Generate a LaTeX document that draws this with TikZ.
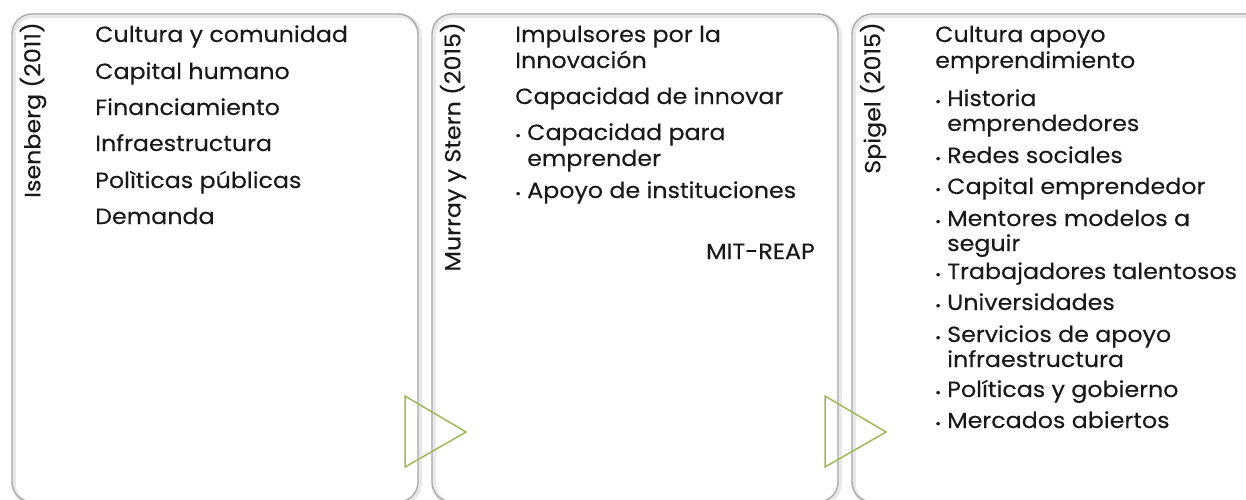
\documentclass[tikz,border=0pt]{standalone}
\usepackage{fontspec}
\setmainfont{Poppins}[FakeStretch=1.08,FakeBold=0.2]
\begin{document}
\begin{tikzpicture}[x=1pt,y=-1pt,
  panel/.style={draw=gray!65,line width=1.4pt,rounded corners=20pt},
  panelshadow/.style={draw=gray!18,line width=4.5pt,rounded corners=20pt},
  txt/.style={anchor=base west,inner sep=0pt,font=\fontsize{22}{24}\selectfont,text=black!90},
  vlabel/.style={anchor=east,rotate=90,inner sep=0pt,font=\fontsize{22}{24}\selectfont,text=black!90},
  bul/.style={anchor=base west,inner sep=0pt,font=\fontsize{13}{13}\selectfont,text=black!90},
  tri/.style={draw={rgb,255:red,155;green,187;blue,89},line width=1.5pt,line join=miter}
]
\useasboundingbox (0,0) rectangle (1246,499);
% panels
\draw[panelshadow] (13.5,15.5) rectangle (419.5,503.5);
\draw[panelshadow] (433.5,15.5) rectangle (839.5,503.5);
\draw[panelshadow] (853.5,15.5) rectangle (1270,503.5);
\draw[panel] (12,14) rectangle (418,502);
\draw[panel] (432,14) rectangle (838,502);
\draw[panel] (852,14) rectangle (1268,502);
% triangles
\coordinate (t1a) at (405,396); \coordinate (t1b) at (405,467); \coordinate (t1c) at (466,432);
\draw[tri] (t1a) -- (t1c) -- (t1b) -- cycle;
\coordinate (t2a) at (825,396); \coordinate (t2b) at (825,467); \coordinate (t2c) at (886,432);
\draw[tri] (t2a) -- (t2c) -- (t2b) -- cycle;
% vertical labels
\node[vlabel] (v1) at (33,22) {Isenberg (2011)};
\node[vlabel] (v2) at (453,22) {Murray y Stern (2015)};
\node[vlabel] (v3) at (873,22) {Spigel (2015)};
% panel 1
\node[txt] (a1) at (95,42) {Cultura y comunidad};
\node[txt] (a2) at (95,79) {Capital humano};
\node[txt] (a3) at (95,115) {Financiamiento};
\node[txt] (a4) at (95,151) {Infraestructura};
\node[txt] (a5) at (95,188) {Polìticas públicas};
\node[txt] (a6) at (95,224) {Demanda};
% panel 2
\node[txt] (b1) at (515,42) {Impulsores por la};
\node[txt] (b1b) at (515,68) {Innovación};
\node[txt] (b2) at (515,104) {Capacidad de innovar};
\node[bul] (b3d) at (515,140) {•};
\node[txt] (b3) at (527,140) {Capacidad para};
\node[txt] (b3b) at (527,166) {emprender};
\node[bul] (b4d) at (515,198) {•};
\node[txt] (b4) at (527,198) {Apoyo de instituciones};
\node[txt,anchor=base east] (b5) at (815,259) {MIT-REAP};
% panel 3
\node[txt] (c1) at (935,42) {Cultura apoyo};
\node[txt] (c1b) at (935,68) {emprendimiento};
\node[bul] (c2d) at (935,106) {•};
\node[txt] (c2) at (947,106) {Historia};
\node[txt] (c2b) at (947,131) {emprendedores};
\node[bul] (c3d) at (935,163) {•};
\node[txt] (c3) at (947,163) {Redes sociales};
\node[bul] (c4d) at (935,194) {•};
\node[txt] (c4) at (947,194) {Capital emprendedor};
\node[bul] (c5d) at (935,226) {•};
\node[txt] (c5) at (947,226) {Mentores modelos a};
\node[txt] (c5b) at (947,251) {seguir};
\node[bul] (c6d) at (935,279) {•};
\node[txt] (c6) at (947,279) {Trabajadores talentosos};
\node[bul] (c7d) at (935,310) {•};
\node[txt] (c7) at (947,310) {Universidades};
\node[bul] (c8d) at (935,342) {•};
\node[txt] (c8) at (947,342) {Servicios de apoyo};
\node[txt] (c8b) at (947,367) {infraestructura};
\node[bul] (c9d) at (935,397) {•};
\node[txt] (c9) at (947,397) {Políticas y gobierno};
\node[bul] (c10d) at (935,428) {•};
\node[txt] (c10) at (947,428) {Mercados abiertos};
\end{tikzpicture}
\end{document}
